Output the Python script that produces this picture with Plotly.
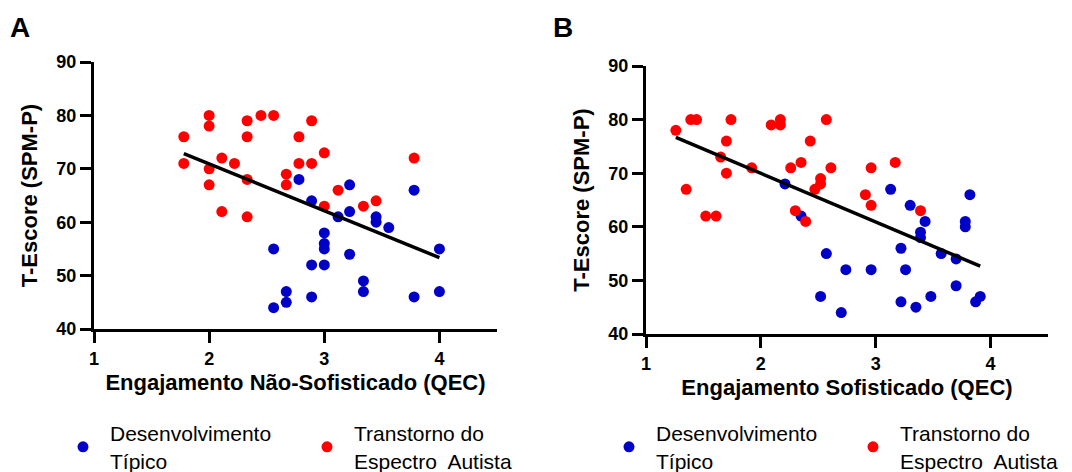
import numpy as np
import plotly.graph_objects as go

# ---------------- Panel A: Engajamento Não-Sofisticado ----------------
a_td_x = [2.78, 3.22, 2.89, 3.12, 3.22, 3.45, 3.45, 3.56, 3.78, 3.00, 3.00, 3.00, 2.56,
          2.89, 3.00, 3.22, 3.34, 3.34, 2.67, 2.67, 2.56, 2.89, 3.78, 4.00, 4.00]
a_td_y = [68, 67, 64, 61, 62, 61, 60, 59, 66, 58, 56, 55, 55,
          52, 52, 54, 49, 47, 47, 45, 44, 46, 46, 55, 47]
a_tea_x = [1.78, 1.78, 2.00, 2.00, 2.00, 2.00, 2.11, 2.22, 2.11, 2.33, 2.33, 2.33, 2.33,
           2.45, 2.56, 2.67, 2.67, 2.78, 2.78, 2.89, 2.89, 3.00, 3.12, 3.00, 3.34, 3.45, 3.78]
a_tea_y = [76, 71, 80, 78, 70, 67, 72, 71, 62, 79, 76, 68, 61,
           80, 80, 69, 67, 76, 71, 79, 71, 73, 66, 63, 63, 64, 72]

# ---------------- Panel B: Engajamento Sofisticado ----------------
b_td_x = [2.21, 2.35, 2.57, 2.74, 2.52, 2.70, 2.96, 3.13, 3.30, 3.43, 3.39, 3.39,
          3.22, 3.26, 3.22, 3.35, 3.48, 3.57, 3.70, 3.70, 3.82, 3.78, 3.78, 3.87, 3.91]
b_td_y = [68, 62, 55, 52, 47, 44, 52, 67, 64, 61, 59, 58,
          56, 52, 46, 45, 47, 55, 54, 49, 66, 61, 60, 46, 47]
b_tea_x = [1.26, 1.35, 1.39, 1.44, 1.52, 1.61, 1.65, 1.70, 1.70, 1.74, 1.92, 2.09, 2.17,
           2.17, 2.26, 2.35, 2.30, 2.39, 2.43, 2.47, 2.52, 2.52, 2.57, 2.61, 2.96, 2.91,
           2.96, 3.17, 3.39]
b_tea_y = [78, 67, 80, 80, 62, 62, 73, 76, 70, 80, 71, 79, 80,
           79, 71, 72, 63, 61, 76, 67, 69, 68, 80, 71, 71, 66,
           64, 72, 63]

x_ticks = [1, 2, 3, 4]
y_ticks = [40, 50, 60, 70, 80, 90]
td_name = "Desenvolvimento<br>Típico"
tea_name = "Transtorno do<br>Espectro  Autista"
x_titles = ["Engajamento Não-Sofisticado (QEC)", "Engajamento Sofisticado (QEC)"]
y_title = "T-Escore (SPM-P)"
panel_labels = ["A", "B"]

BLUE = "#0000C8"
RED = "#FF0000"
FONT = "Liberation Sans, Arial, sans-serif"

fig = go.Figure()

panels = [
    (a_td_x, a_td_y, a_tea_x, a_tea_y, "x", "y", "legend"),
    (b_td_x, b_td_y, b_tea_x, b_tea_y, "x2", "y2", "legend2"),
]
for tdx, tdy, teax, teay, xa, ya, lg in panels:
    fig.add_trace(go.Scatter(x=tdx, y=tdy, mode="markers", name=td_name,
                             marker=dict(color=BLUE, size=11), xaxis=xa, yaxis=ya,
                             legend=lg))
    fig.add_trace(go.Scatter(x=teax, y=teay, mode="markers", name=tea_name,
                             marker=dict(color=RED, size=11), xaxis=xa, yaxis=ya,
                             legend=lg))
    allx = np.array(tdx + teax)
    ally = np.array(tdy + teay)
    slope, icpt = np.polyfit(allx, ally, 1)
    lx = np.array([allx.min(), allx.max()])
    fig.add_trace(go.Scatter(x=lx, y=slope * lx + icpt, mode="lines",
                             line=dict(color="black", width=3.5), showlegend=False,
                             xaxis=xa, yaxis=ya, hoverinfo="skip"))

W, H = 1072, 472
def px_x(p):
    return p / W
def px_y(p):
    return 1 - p / H

axis_common = dict(showline=True, linecolor="black", linewidth=3, ticks="outside",
                   ticklen=11, tickwidth=3, tickcolor="black", showgrid=False,
                   zeroline=False, mirror=False, automargin=False,
                   tickfont=dict(family=FONT, size=18, color="black", weight="bold"))

xdoms = [[px_x(94), px_x(497)], [px_x(646), px_x(1048)]]
ydoms = [[px_y(329), px_y(62)], [px_y(334), px_y(66)]]

for i in range(2):
    sfx = "" if i == 0 else "2"
    fig.update_layout(**{
        "xaxis" + sfx: dict(axis_common, domain=xdoms[i], range=[1, 4.5], tickvals=x_ticks,
                            anchor="y" + sfx,
                            title=dict(text=x_titles[i], standoff=8,
                                       font=dict(family=FONT, size=22, color="black",
                                                 weight="bold"))),
        "yaxis" + sfx: dict(axis_common, domain=ydoms[i], range=[40, 90], tickvals=y_ticks,
                            anchor="x" + sfx,
                            title=dict(text=y_title, standoff=13,
                                       font=dict(family=FONT, size=22, color="black",
                                                 weight="bold"))),
    })

legend_common = dict(orientation="h", entrywidth=185, entrywidthmode="pixels",
                     itemwidth=44,
                     font=dict(family=FONT, size=21, color="black"),
                     bgcolor="rgba(0,0,0,0)", xanchor="left", yanchor="middle",
                     valign="middle", itemclick=False, itemdoubleclick=False)
fig.update_layout(
    legend=dict(legend_common, x=px_x(56), y=px_y(447)),
    legend2=dict(legend_common, x=px_x(602), y=px_y(447)),
)

fig.add_annotation(text=panel_labels[0], x=px_x(8), y=px_y(28), xref="paper", yref="paper",
                   xanchor="left", yanchor="middle", showarrow=False,
                   font=dict(family=FONT, size=28, color="black", weight="bold"))
fig.add_annotation(text=panel_labels[1], x=px_x(551), y=px_y(28), xref="paper", yref="paper",
                   xanchor="left", yanchor="middle", showarrow=False,
                   font=dict(family=FONT, size=28, color="black", weight="bold"))

fig.update_layout(width=W, height=H, margin=dict(l=0, r=0, t=0, b=0, autoexpand=False),
                  paper_bgcolor="white", plot_bgcolor="white",
                  font=dict(family=FONT, color="black"))

fig.write_html("out.html", config={"displayModeBar": False},
               post_script="document.body.style.margin='0px';document.body.style.overflow='hidden';")
